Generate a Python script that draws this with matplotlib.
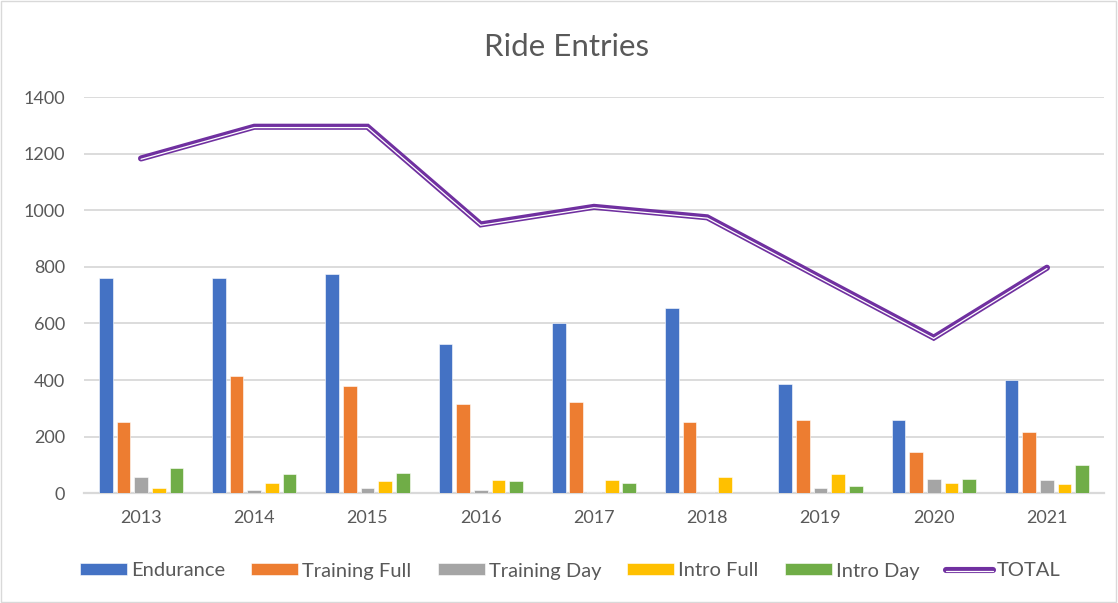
import matplotlib
matplotlib.use("Agg")
import matplotlib.pyplot as plt
import matplotlib.patheffects as pe
from matplotlib.patches import Rectangle
import numpy as np

plt.rcParams['font.family'] = ['Lato', 'DejaVu Sans']

years = ["2013", "2014", "2015", "2016", "2017", "2018", "2019", "2020", "2021"]
endurance = [759, 760, 775, 526, 600, 656, 386, 259, 399]
training_full = [251, 413, 380, 315, 321, 251, 260, 147, 215]
training_day = [58, 12, 20, 11, 4, 5, 19, 50, 47]
intro_full = [19, 37, 42, 48, 48, 56, 68, 37, 34]
intro_day = [90, 68, 72, 43, 36, 1, 27, 50, 101]
total = [1183, 1295, 1295, 950, 1012, 975, 762, 550, 797]

series = [
    ("Endurance", endurance, "#4472C4"),
    ("Training Full", training_full, "#ED7D31"),
    ("Training Day", training_day, "#A5A5A5"),
    ("Intro Full", intro_full, "#FFC000"),
    ("Intro Day", intro_day, "#70AD47"),
]
purple = "#7030A0"
txt = "#595959"
grid = "#D9D9D9"

fig = plt.figure(figsize=(11.18, 6.03), dpi=100)
fig.patches.append(Rectangle((0.001, 0.002), 0.997, 0.996, transform=fig.transFigure,
                             fill=False, edgecolor=grid, linewidth=1.0))
ax = fig.add_axes([0.0755, 0.1819, 0.9116, 0.6572])

x = np.arange(len(years))
step = 0.156
width = 0.121
handles = []
for i, (name, vals, col) in enumerate(series):
    b = ax.bar(x + (i - 2) * step, vals, width=width, color=col, edgecolor="white",
               linewidth=0.4, label=name, zorder=3)
    handles.append(b)

ln, = ax.plot(x, total, color="white", linewidth=0.9, label="TOTAL", zorder=4,
              solid_capstyle="round", solid_joinstyle="miter",
              path_effects=[pe.Stroke(linewidth=4.4, foreground=purple),
                            pe.Stroke(linewidth=0.9, foreground="white", offset=(0, -0.6))])
handles.append(ln)

ax.set_xlim(-0.5, len(years) - 0.5)
ax.set_ylim(0, 1400)
ax.set_yticks(range(0, 1401, 200))
ax.set_xticks(x)
ax.set_xticklabels(years)
ax.yaxis.grid(True, color=grid, linewidth=1.3, zorder=0)
ax.set_axisbelow(True)
for s in ["top", "right", "left"]:
    ax.spines[s].set_visible(False)
ax.spines["bottom"].set_color(grid)
ax.spines["bottom"].set_linewidth(1.6)
ax.spines["bottom"].set_zorder(2)
ax.tick_params(axis="both", length=0, labelsize=13, colors=txt)
ax.tick_params(axis="y", pad=14)
ax.tick_params(axis="x", pad=12)

fig.text(0.507, 1 - 47 / 603, "Ride Entries", ha="center", va="center",
         fontsize=22.5, color=txt)

labels = [h.get_label() for h in handles]
leg = fig.legend(handles, labels, loc="center", bbox_to_anchor=(0.51, 1 - 571 / 603), ncol=6,
                 frameon=False, fontsize=14.5, labelcolor=txt, handlelength=2.33,
                 handleheight=0.55, handletextpad=0.2, columnspacing=1.3)

fig.savefig("out.png", dpi=100)
